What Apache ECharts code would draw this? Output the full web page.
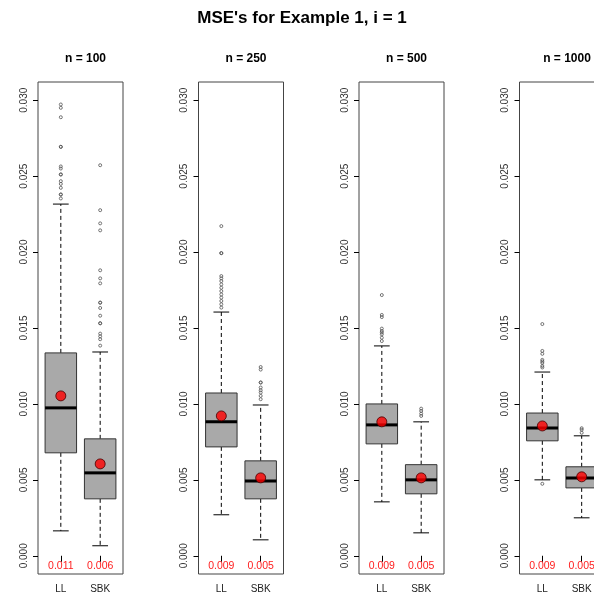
<!DOCTYPE html>
<html>
<head>
<meta charset="utf-8">
<title>MSE's for Example 1, i = 1</title>
<script src="https://cdn.jsdelivr.net/npm/echarts@6/dist/echarts.min.js"></script>
<style>
  html, body { margin: 0; padding: 0; background: #fff; }
  #chart { width: 594px; height: 603px; }
</style>
</head>
<body>
<div id="chart"></div>
<script>
// Sample sizes (one panel each) and estimators compared
const panelTitles = ['n = 100', 'n = 250', 'n = 500', 'n = 1000'];
const methods = ['LL', 'SBK'];
const yTicks = [0, 0.005, 0.010, 0.015, 0.020, 0.025, 0.030];

// Five-number summaries: [lower whisker, Q1, median, Q3, upper whisker]
const llStats = [
  [0.00164, 0.00678, 0.00974, 0.01336, 0.02316],
  [0.00270, 0.00717, 0.00882, 0.01072, 0.01605],
  [0.00355, 0.00737, 0.00862, 0.01000, 0.01382],
  [0.00500, 0.00757, 0.00842, 0.00940, 0.01210]
];
const sbkStats = [
  [0.00066, 0.00375, 0.00546, 0.00770, 0.01342],
  [0.00105, 0.00375, 0.00493, 0.00625, 0.00993],
  [0.00151, 0.00408, 0.00500, 0.00600, 0.00882],
  [0.00250, 0.00447, 0.00513, 0.00586, 0.00790]
];

// Mean MSE per estimator
const llMeans = [0.01053, 0.00921, 0.00882, 0.00855];
const sbkMeans = [0.00605, 0.00513, 0.00513, 0.00520];

// Points beyond the whiskers
const llOutliers = [
  [0.02972, 0.02950, 0.02888, 0.02693, 0.02693, 0.02564, 0.02550, 0.02511, 0.02511, 0.02467, 0.02449, 0.02423, 0.02379, 0.02379, 0.02353],
  [0.02171, 0.01993, 0.01993, 0.01842, 0.01827, 0.01809, 0.01787, 0.01765, 0.01743, 0.01721, 0.01700, 0.01678, 0.01656, 0.01634],
  [0.01717, 0.01586, 0.01572, 0.01496, 0.01480, 0.01470, 0.01458, 0.01436, 0.01414],
  [0.01526, 0.01349, 0.01330, 0.01290, 0.01280, 0.01270, 0.01250, 0.01240, 0.00474]
];
const sbkOutliers = [
  [0.02572, 0.02276, 0.02189, 0.02143, 0.01880, 0.01827, 0.01794, 0.01667, 0.01667, 0.01632, 0.01581, 0.01531, 0.01531, 0.01463, 0.01445, 0.01426, 0.01384],
  [0.01243, 0.01226, 0.01141, 0.01141, 0.01108, 0.01090, 0.01075, 0.01053, 0.01031],
  [0.00969, 0.00954, 0.00936, 0.00921],
  [0.00840, 0.00830, 0.00810]
];

const FONT = '"Liberation Sans", Arial, sans-serif';
const Y_MIN = -0.0012, Y_MAX = 0.0312;
const X_MIN = 0.42, X_MAX = 2.58;
const BOX_HALF = 0.4;

const panelLeft = [38, 198.5, 359, 519.5];
const panelTop = 82, panelW = 85, panelH = 492;

function renderBox(params, api) {
  const x = api.value(0);
  const lo = api.coord([x, api.value(1)]);
  const q1 = api.coord([x, api.value(2)]);
  const med = api.coord([x, api.value(3)]);
  const q3 = api.coord([x, api.value(4)]);
  const hi = api.coord([x, api.value(5)]);
  const half = api.size([BOX_HALF, 0])[0];
  const cap = half / 2;
  const cx = lo[0];
  const dash = { stroke: '#000', lineWidth: 1, lineDash: [4, 3] };
  const solid = { stroke: '#000', lineWidth: 1 };
  return {
    type: 'group',
    children: [
      { type: 'line', shape: { x1: cx, y1: q1[1], x2: cx, y2: lo[1] }, style: dash },
      { type: 'line', shape: { x1: cx, y1: q3[1], x2: cx, y2: hi[1] }, style: dash },
      { type: 'line', shape: { x1: cx - cap, y1: lo[1], x2: cx + cap, y2: lo[1] }, style: solid },
      { type: 'line', shape: { x1: cx - cap, y1: hi[1], x2: cx + cap, y2: hi[1] }, style: solid },
      { type: 'rect', shape: { x: cx - half, y: q3[1], width: 2 * half, height: q1[1] - q3[1] },
        style: { fill: '#a9a9a9', stroke: '#333', lineWidth: 1 } },
      { type: 'line', shape: { x1: cx - half, y1: med[1], x2: cx + half, y2: med[1] },
        style: { stroke: '#000', lineWidth: 3 } }
    ]
  };
}

function renderMeanLabel(params, api) {
  const x = api.value(0);
  const m = api.value(1);
  const cs = params.coordSys;
  const px = api.coord([x, m])[0];
  return {
    type: 'text',
    style: {
      x: px, y: cs.y + cs.height - 8,
      text: m.toFixed(3),
      fill: '#ff2020', font: '10.5px ' + FONT,
      align: 'center', verticalAlign: 'middle'
    }
  };
}

const grids = [], xAxes = [], yAxes = [], series = [];
const titles = [{
  text: "MSE's for Example 1, i = 1",
  left: 297, top: 5, textAlign: 'center',
  textStyle: { fontFamily: FONT, fontSize: 17, fontWeight: 'bold', color: '#000' }
}];

panelTitles.forEach((t, p) => {
  grids.push({
    left: panelLeft[p], top: panelTop, width: panelW, height: panelH,
    outerBoundsMode: 'none', containLabel: false,
    show: true, borderColor: '#444', borderWidth: 1, backgroundColor: 'transparent'
  });
  titles.push({
    text: t, left: panelLeft[p] + panelW / 2, top: 48, textAlign: 'center',
    textStyle: { fontFamily: FONT, fontSize: 12, fontWeight: 'bold', color: '#000' }
  });
  xAxes.push({
    gridIndex: p, type: 'value', min: X_MIN, max: X_MAX,
    axisLine: { show: false },
    splitLine: { show: false },
    axisTick: { show: true, length: 6, lineStyle: { color: '#000' }, customValues: [1, 2] },
    axisLabel: {
      customValues: [1, 2], margin: 10,
      formatter: v => methods[Math.round(v) - 1] || '',
      fontFamily: FONT, fontSize: 10, color: '#222'
    }
  });
  yAxes.push({
    gridIndex: p, type: 'value', min: Y_MIN, max: Y_MAX,
    axisLine: { show: false },
    splitLine: { show: false },
    axisTick: { show: true, length: 5, lineStyle: { color: '#000' }, customValues: yTicks },
    axisLabel: {
      customValues: yTicks, rotate: 90, margin: 9,
      formatter: v => v.toFixed(3),
      fontFamily: FONT, fontSize: 10, color: '#333'
    }
  });

  series.push({
    type: 'custom', xAxisIndex: p, yAxisIndex: p,
    renderItem: renderBox,
    data: [[1].concat(llStats[p]), [2].concat(sbkStats[p])],
    z: 2
  });
  series.push({
    type: 'scatter', xAxisIndex: p, yAxisIndex: p,
    symbol: 'circle', symbolSize: 3,
    itemStyle: { color: 'rgba(255,255,255,0)', borderColor: '#555', borderWidth: 1 },
    data: llOutliers[p].map(v => [1, v]).concat(sbkOutliers[p].map(v => [2, v])),
    silent: true, z: 3
  });
  series.push({
    type: 'scatter', xAxisIndex: p, yAxisIndex: p,
    symbol: 'circle', symbolSize: 10,
    itemStyle: { color: '#ff0000', borderColor: '#400', borderWidth: 1 },
    data: [[1, llMeans[p]], [2, sbkMeans[p]]],
    silent: true, z: 4
  });
  series.push({
    type: 'custom', xAxisIndex: p, yAxisIndex: p,
    renderItem: renderMeanLabel,
    data: [[1, llMeans[p]], [2, sbkMeans[p]]],
    silent: true, z: 5
  });
});

const chart = echarts.init(document.getElementById('chart'), null, { renderer: 'canvas' });
chart.setOption({
  backgroundColor: '#fff',
  animation: false,
  title: titles,
  grid: grids,
  xAxis: xAxes,
  yAxis: yAxes,
  series: series
});
</script>
</body>
</html>
